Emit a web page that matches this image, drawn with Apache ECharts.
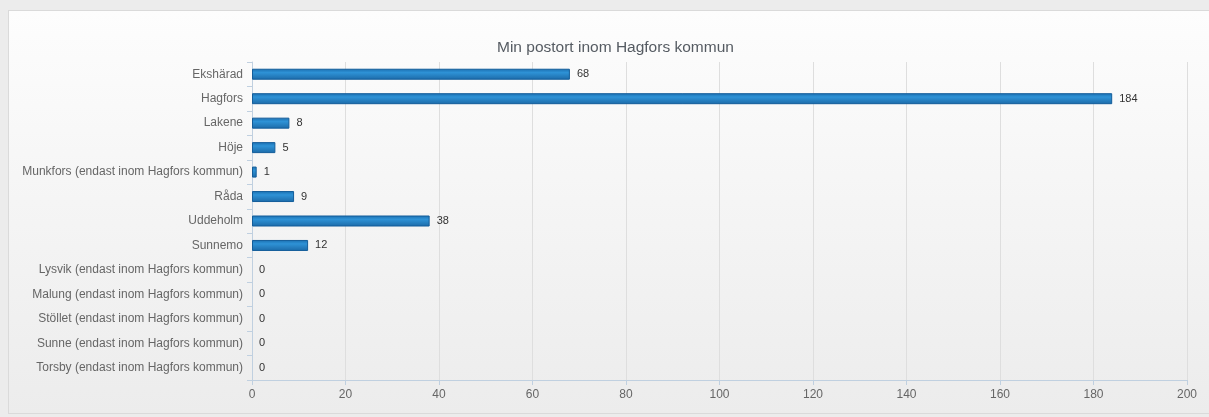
<!DOCTYPE html>
<html>
<head>
<meta charset="utf-8">
<script src="https://cdn.jsdelivr.net/npm/echarts@6.0.0/dist/echarts.min.js"></script>
<style>
  html, body { margin: 0; padding: 0; background: #ececec; }
  #panel {
    position: absolute; left: 8px; top: 10px; width: 1210px; height: 402px;
    border: 1px solid #dadada; border-right: none;
    background: linear-gradient(#fdfdfd, #ececec);
  }
  #chart { position: absolute; left: 0; top: 0; width: 1209px; height: 417px; }
</style>
</head>
<body>
<div id="panel"></div>
<div id="chart"></div>
<script>
// 类目与数值
const places = [
  'Ekshärad', 'Hagfors', 'Lakene', 'Höje',
  'Munkfors (endast inom Hagfors kommun)', 'Råda', 'Uddeholm', 'Sunnemo',
  'Lysvik (endast inom Hagfors kommun)', 'Malung (endast inom Hagfors kommun)',
  'Stöllet (endast inom Hagfors kommun)', 'Sunne (endast inom Hagfors kommun)',
  'Torsby (endast inom Hagfors kommun)'
];
const counts = [68, 184, 8, 5, 1, 9, 38, 12, 0, 0, 0, 0, 0];
const xTicks = [0, 20, 40, 60, 80, 100, 120, 140, 160, 180, 200];

const chart = echarts.init(document.getElementById('chart'));
const font = 'Liberation Sans, Arial, sans-serif';

chart.setOption({
  animation: false,
  title: {
    text: 'Min postort inom Hagfors kommun',
    left: 492,
    top: 35,
    textStyle: { color: '#555b62', fontSize: 15.5, fontWeight: 'normal', fontFamily: font }
  },
  grid: { left: 252, right: 22, top: 62, bottom: 37 },
  xAxis: {
    type: 'value',
    min: xTicks[0],
    max: xTicks[xTicks.length - 1],
    interval: xTicks[1] - xTicks[0],
    axisLine: { show: true, lineStyle: { color: '#c0d0e0' } },
    axisTick: { show: true, length: 5, lineStyle: { color: '#c0d0e0' } },
    axisLabel: { color: '#666', fontSize: 12, fontFamily: font, margin: 9 },
    splitLine: { lineStyle: { color: '#dedede' } }
  },
  yAxis: {
    type: 'category',
    inverse: true,
    data: places,
    axisLine: { lineStyle: { color: '#c0d0e0' } },
    axisTick: { show: true, length: 5, lineStyle: { color: '#c0d0e0' } },
    axisLabel: { color: '#666', fontSize: 12, fontFamily: font, margin: 9 }
  },
  series: [{
    type: 'bar',
    // 值为0时不画边框
    data: counts.map(v => (v === 0 ? { value: v, itemStyle: { borderWidth: 0 } } : v)),
    barWidth: 11,
    itemStyle: {
      color: new echarts.graphic.LinearGradient(0, 0, 0, 1, [
        { offset: 0, color: '#1b6fb0' },
        { offset: 0.35, color: '#2e92d6' },
        { offset: 1, color: '#1c6aa8' }
      ]),
      borderColor: '#135d9a',
      borderWidth: 1
    },
    label: {
      show: true,
      position: 'right',
      distance: 7,
      color: '#333',
      fontSize: 11,
      fontFamily: font
    }
  }]
});
</script>
</body>
</html>
